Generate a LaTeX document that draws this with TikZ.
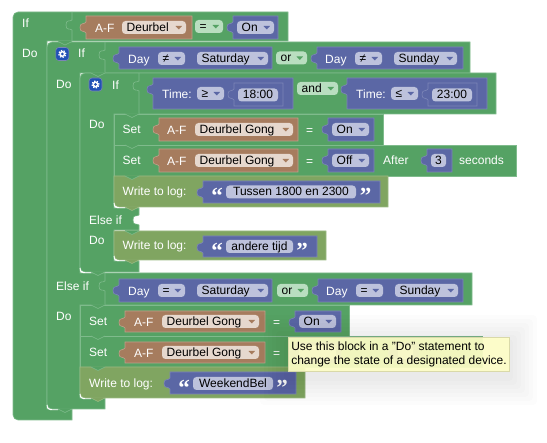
\documentclass[tikz,border=0pt]{standalone}
\usepackage{fontspec}
\setmainfont{Liberation Sans}
\newfontfamily\quotefont{Liberation Serif}
\usetikzlibrary{arrows.meta,positioning,calc}

\definecolor{stmtgreen}{HTML}{55A264}
\definecolor{stmtedge}{HTML}{7FBB8C}
\definecolor{logolive}{HTML}{80A561}
\definecolor{logedge}{HTML}{9CBB84}
\definecolor{devbrown}{HTML}{A67C5E}
\definecolor{devedge}{HTML}{BFA08A}
\definecolor{devfield}{HTML}{E6D8CE}
\definecolor{valblue}{HTML}{5B67A5}
\definecolor{valedge}{HTML}{7C85B7}
\definecolor{valfield}{HTML}{BDC2DC}
\definecolor{opfield}{HTML}{B9DEC0}
\definecolor{gearblue}{HTML}{2151B5}
\definecolor{hintyellow}{HTML}{FFFFC7}

\tikzset{
  stmtblock/.style={fill=stmtgreen, draw=stmtedge, line width=.6pt},
  logblock/.style={fill=logolive, draw=logedge, line width=.6pt},
  devblock/.style={fill=devbrown, draw=devedge, line width=.6pt},
  valblock/.style={fill=valblue, draw=valedge, line width=.6pt},
  blocklabel/.style={anchor=west, inner sep=0pt, text=white, text height=10pt, text depth=2pt, yshift=-.8pt},
  fieldtext/.style={inner sep=0pt, text=black, text height=10pt, text depth=2pt},
  quoteglyph/.style={inner sep=0pt, text=white, font=\quotefont\bfseries\fontsize{23}{23}\selectfont},
  gearbox/.style={fill=gearblue, draw=valedge, line width=.6pt, rounded corners=3pt, minimum size=13pt, inner sep=0pt},
  hintbox/.style={anchor=north west, fill=hintyellow, draw=hintyellow!85!black, line width=.5pt, fill opacity=.92,
    text opacity=1, minimum width=221pt, minimum height=34pt, inner xsep=3pt, inner ysep=2pt, align=left}
}

% value block with its left tab: style, x1, x2, y1, y2
\newcommand{\valuebox}[5]{
  \draw[#1] (#2,#4) -- (#3,#4) -- (#3,#5) -- (#2,#5) -- (#2,#4+17)
    .. controls (#2-2,#4+14) and (#2-6,#4+17) .. (#2-6,#4+11.5)
    .. controls (#2-6,#4+6) and (#2-2,#4+9) .. (#2,#4+6) -- cycle;
}
% rounded field with arrow: name, x1, x2, yc, text, fill, arrow colour
\newcommand{\dropfield}[7]{
  \fill[#6, rounded corners=3.5pt] (#2,#4-6.5) rectangle (#3,#4+6.5);
  \node[fieldtext, anchor=west] (#1) at (#2+4.5,#4) {#5};
  \fill[#7] (#3-10.5,#4-1.5) -- (#3-4,#4-1.5) -- (#3-7.2,#4+2) -- cycle;
}
% rounded field without arrow: name, x1, x2, yc, text
\newcommand{\textfield}[5]{
  \fill[valfield, rounded corners=3.5pt] (#2,#4-6.5) rectangle (#3,#4+6.5);
  \node[fieldtext] (#1) at ({(#2+#3)/2},#4) {#5};
}
% statement tab: fill, edge, x, y
\newcommand{\stmttab}[4]{
  \fill[#1] (#3,#4-.5) -- (#3,#4) .. controls (#3+3,#4) and (#3+4,#4+3.5) .. (#3+7,#4+3.5)
    .. controls (#3+10,#4+3.5) and (#3+11,#4) .. (#3+14,#4) -- (#3+14,#4-.5) -- cycle;
  \draw[#2, line width=.6pt] (#3,#4) .. controls (#3+3,#4) and (#3+4,#4+3.5) .. (#3+7,#4+3.5)
    .. controls (#3+10,#4+3.5) and (#3+11,#4) .. (#3+14,#4);
}
% input socket line: x, y1, y2
\newcommand{\inputline}[3]{
  \draw[stmtedge, line width=.6pt] (#1,#2) -- (#1,#2+8)
    .. controls (#1-2,#2+10) and (#1-6,#2+7) .. (#1-6,#2+13)
    .. controls (#1-6,#2+19) and (#1-2,#2+16) .. (#1,#2+18) -- (#1,#3);
}
% white glint below a rounded corner: x, y
\newcommand{\cornerglint}[2]{
  \draw[white, line width=.9pt] (#1,#2-5) .. controls (#1,#2-1) and (#1+2,#2) .. (#1+6,#2) -- (#1+11,#2);
}
% gear icon: name, x, y
\newcommand{\gearicon}[3]{
  \node[gearbox] (#1) at (#2,#3) {};
  \fill[white] (#2,#3) circle (3pt);
  \draw[white, line width=1.2pt, dash pattern=on 1.4pt off 1.4pt] (#2,#3) circle (3.6pt);
  \fill[gearblue] (#2,#3) circle (1.5pt);
}

\begin{document}
\begin{tikzpicture}[x=1pt, y=-1pt, every node/.style={font=\fontsize{12}{14}\selectfont}]
  \useasboundingbox (0,0) rectangle (547,443);

  % STATEMENT BLOCKS
  \draw[stmtblock] (13,300) [rounded corners=5pt] -- (13,12) [sharp corners] -- (288,12) -- (288,41) -- (47,41) -- (47,409)
    -- (72,409) -- (72,420) [rounded corners=5pt] -- (13,420) [sharp corners] -- cycle;
  \draw[stmtblock] (47,300) [rounded corners=5pt] -- (47,42) [sharp corners] -- (470,42) -- (470,73) -- (80,73) -- (80,273)
    -- (472,273) -- (472,305) -- (80,305) -- (80,398) -- (105,398) -- (105,409) [rounded corners=5pt] -- (47,409) [sharp corners] -- cycle;
  \draw[stmtblock] (80,150) [rounded corners=5pt] -- (80,73) [sharp corners] -- (496,73) -- (496,114) -- (114,114) -- (114,208)
    -- (139,208) -- (139,215) .. controls (137,217) and (133,214) .. (133,220) .. controls (133,226) and (137,223) .. (139,225)
    -- (139,230) -- (114,230) -- (114,261) -- (139,261) -- (139,272) [rounded corners=5pt] -- (80,272) [sharp corners] -- cycle;

  \draw[stmtblock] (114,114) rectangle (383,145);
  \draw[stmtblock] (114,145) rectangle (516,176);
  \draw[logblock] (114,176) -- (388,176) -- (388,207) -- (126,207) [rounded corners=5pt] -- (114,207) [sharp corners] -- cycle;
  \draw[logblock] (114,231) -- (326,231) -- (326,260) -- (126,260) [rounded corners=5pt] -- (114,260) [sharp corners] -- cycle;
  \draw[stmtblock] (80,305) rectangle (349,336);
  \draw[stmtblock] (80,336) rectangle (482,367);
  \draw[logblock] (80,367) -- (305,367) -- (305,398) -- (92,398) [rounded corners=5pt] -- (80,398) [sharp corners] -- cycle;

  \inputline{72}{12}{41}
  \inputline{105}{42}{73}
  \inputline{139}{73}{114}
  \inputline{105}{273}{305}

  \stmttab{stmtgreen}{stmtedge}{58}{41.5}
  \stmttab{stmtgreen}{stmtedge}{91}{73}
  \stmttab{stmtgreen}{stmtedge}{91}{305}
  \stmttab{stmtgreen}{stmtedge}{125}{114}
  \stmttab{stmtgreen}{stmtedge}{125}{145}
  \stmttab{stmtgreen}{stmtedge}{125}{176}
  \stmttab{stmtgreen}{stmtedge}{125}{231}
  \stmttab{stmtgreen}{stmtedge}{91}{336}
  \stmttab{stmtgreen}{stmtedge}{91}{367}

  \cornerglint{114}{207.8}
  \cornerglint{114}{260.8}
  \cornerglint{80}{398.8}
  \cornerglint{80}{272.8}
  \cornerglint{47}{409.8}
  \stmttab{logolive}{logedge}{125}{207}
  \stmttab{logolive}{logedge}{125}{260}
  \stmttab{logolive}{logedge}{91}{398}
  \stmttab{stmtgreen}{stmtedge}{91}{272}
  \stmttab{stmtgreen}{stmtedge}{58}{409}

  % BLOCK LABELS
  \node[blocklabel] (ifmain) at (22,22.5) {If};
  \node[blocklabel] (domain) at (22,53) {Do};
  \gearicon{gearweek}{62.3}{54}
  \node[blocklabel] (ifweek) at (78,53) {If};
  \node[blocklabel] (doweek) at (56,84) {Do};
  \gearicon{geartime}{95.5}{84.5}
  \node[blocklabel] (iftime) at (112,84.5) {If};
  \node[blocklabel] (dotime) at (89,124) {Do};
  \node[blocklabel] (setone) at (122.5,129) {Set};
  \node[blocklabel] (settwo) at (122.5,160) {Set};
  \node[blocklabel] (logone) at (122.5,191) {Write to log:};
  \node[blocklabel] (elsetime) at (89,220) {Else if};
  \node[blocklabel] (dotimeb) at (89,240) {Do};
  \node[blocklabel] (logtwo) at (122.5,245) {Write to log:};
  \node[blocklabel] (elseweek) at (56,286) {Else if};
  \node[blocklabel] (doweekb) at (56,316) {Do};
  \node[blocklabel] (setthree) at (89,321) {Set};
  \node[blocklabel] (setfour) at (89,352) {Set};
  \node[blocklabel] (logthree) at (89,383) {Write to log:};

  % FIRST ROW
  \valuebox{devblock}{86}{192}{16}{39}
  \node[blocklabel] (afmain) at (95,27.5) {A-F};
  \dropfield{devmain}{122}{186}{27.5}{Deurbel}{devfield}{devbrown}
  \dropfield{eqmain}{195}{223}{26.5}{=}{opfield}{stmtgreen}
  \valuebox{valblock}{233}{278}{16}{39}
  \dropfield{onmain}{237}{274}{27.5}{On}{valfield}{valblue}

  % WEEKDAY ROW
  \valuebox{valblock}{119}{272}{47}{69}
  \node[blocklabel] (dayone) at (128,58.5) {Day};
  \dropfield{neone}{158}{185}{58.5}{≠}{valfield}{valblue}
  \dropfield{satone}{197}{268}{58.5}{Saturday}{valfield}{valblue}
  \dropfield{orone}{276}{307}{58}{or}{opfield}{stmtgreen}
  \valuebox{valblock}{317}{463}{47}{69}
  \node[blocklabel] (daytwo) at (325,58.5) {Day};
  \dropfield{netwo}{355}{382}{58.5}{≠}{valfield}{valblue}
  \dropfield{sunone}{394}{457}{58.5}{Sunday}{valfield}{valblue}

  % TIME ROW
  \valuebox{valblock}{153}{293}{78}{109}
  \node[blocklabel] (timeone) at (162,94) {Time:};
  \dropfield{geop}{197}{224}{93.5}{≥}{valfield}{valblue}
  \valuebox{valblock}{234}{283}{83}{106}
  \textfield{timefrom}{238}{278}{95}{18:00}
  \dropfield{andop}{297}{338}{88.5}{and}{opfield}{stmtgreen}
  \valuebox{valblock}{347}{487}{78}{109}
  \node[blocklabel] (timetwo) at (356,94) {Time:};
  \dropfield{leop}{391}{418}{93.5}{≤}{valfield}{valblue}
  \valuebox{valblock}{428}{477}{83}{106}
  \textfield{timeto}{432}{472}{95}{23:00}

  % SET ROWS
  \valuebox{devblock}{159}{298}{118}{141}
  \node[blocklabel] (afone) at (167,129.5) {A-F};
  \dropfield{gongone}{195}{293}{129.5}{Deurbel Gong}{devfield}{devbrown}
  \node[blocklabel] (eqone) at (306,129.5) {=};
  \valuebox{valblock}{328}{374}{118}{141}
  \dropfield{onone}{332}{369}{129.5}{On}{valfield}{valblue}

  \valuebox{devblock}{159}{298}{149}{172}
  \node[blocklabel] (aftwo) at (167,160.5) {A-F};
  \dropfield{gongtwo}{195}{293}{160.5}{Deurbel Gong}{devfield}{devbrown}
  \node[blocklabel] (eqtwo) at (306,160.5) {=};
  \valuebox{valblock}{328}{374}{149}{172}
  \dropfield{offone}{332}{369}{160.5}{Off}{valfield}{valblue}
  \node[blocklabel] (afterone) at (383,160) {After};
  \valuebox{valblock}{427}{452}{149}{172}
  \textfield{delayone}{431}{446}{160.5}{3}
  \node[blocklabel] (secsone) at (459,160) {seconds};

  % LOG ROWS
  \valuebox{valblock}{203}{380}{181}{203}
  \node[quoteglyph] (openone) at (217,196) {“};
  \textfield{msgone}{226}{356}{192}{Tussen 1800 en 2300}
  \node[quoteglyph] (closeone) at (365.5,196) {”};
  \valuebox{valblock}{203}{317}{236}{257}
  \node[quoteglyph] (opentwo) at (217,250.5) {“};
  \textfield{msgtwo}{226}{293}{246.5}{andere tijd}
  \node[quoteglyph] (closetwo) at (302,250.5) {”};

  % ELSE IF ROW
  \valuebox{valblock}{119}{272}{279}{302}
  \node[blocklabel] (daythree) at (128,291) {Day};
  \dropfield{eqthree}{158}{185}{290.5}{=}{valfield}{valblue}
  \dropfield{sattwo}{197}{268}{290.5}{Saturday}{valfield}{valblue}
  \dropfield{ortwo}{277}{308}{290.5}{or}{opfield}{stmtgreen}
  \valuebox{valblock}{318}{463}{279}{302}
  \node[blocklabel] (dayfour) at (326,291) {Day};
  \dropfield{eqfour}{356}{383}{290.5}{=}{valfield}{valblue}
  \dropfield{suntwo}{395}{458}{290.5}{Sunday}{valfield}{valblue}

  \valuebox{devblock}{125}{265}{311}{332}
  \node[blocklabel] (afthree) at (134,321.5) {A-F};
  \dropfield{gongthree}{162}{259}{321.5}{Deurbel Gong}{devfield}{devbrown}
  \node[blocklabel] (eqfive) at (273,321.5) {=};
  \valuebox{valblock}{295}{341}{311}{332}
  \dropfield{ontwo}{299}{336}{321.5}{On}{valfield}{valblue}

  \valuebox{devblock}{125}{265}{342}{363}
  \node[blocklabel] (affour) at (134,352.5) {A-F};
  \dropfield{gongfour}{162}{259}{352.5}{Deurbel Gong}{devfield}{devbrown}
  \node[blocklabel] (eqsix) at (273,352.5) {=};
  % covered by the tooltip
  \valuebox{valblock}{295}{341}{342}{363}
  \fill[valfield, rounded corners=3.5pt] (299,346) rectangle (336,359);
  \valuebox{valblock}{394}{419}{342}{363}
  \fill[valfield, rounded corners=3.5pt] (398,346) rectangle (413,359);

  \valuebox{valblock}{170}{296}{372}{394}
  \node[quoteglyph] (openthree) at (184,387.5) {“};
  \textfield{msgthree}{193}{273}{383.5}{WeekendBel}
  \node[quoteglyph] (closethree) at (282,387.5) {”};

  % TOOLTIP
  \foreach \grow in {4,8,...,28}
    \fill[black, opacity=.012, rounded corners=4pt] (288-\grow,337+6-\grow) rectangle (509+\grow,371+6+\grow);
  \node[hintbox] (hint) at (288,337) {Use this block in a "Do" statement to\\change the state of a designated device.};
\end{tikzpicture}
\end{document}
